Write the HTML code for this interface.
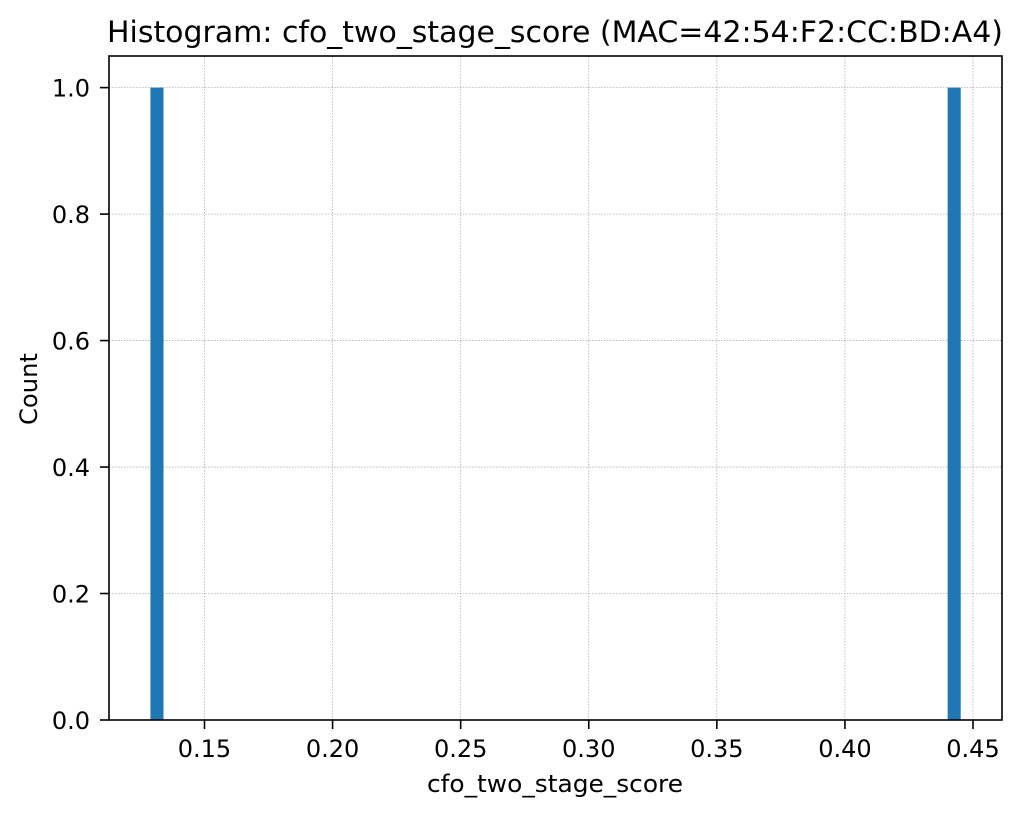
<!DOCTYPE html>
<html><head><meta charset="utf-8"><style>
body{margin:0;background:#fff;}
svg{display:block;font-family:"DejaVu Sans","Liberation Sans",sans-serif;}
</style></head><body>
<svg id="chart" width="1023" height="815"></svg>
<script>
const xTicks=[0.15,0.20,0.25,0.30,0.35,0.40,0.45];
const xTickLabels=["0.15","0.20","0.25","0.30","0.35","0.40","0.45"];
const yTicks=[0,0.2,0.4,0.6,0.8,1.0];
const yTickLabels=["0.0","0.2","0.4","0.6","0.8","1.0"];
const binStarts=[0.1289,0.4401];
const binWidth=0.0051;
const counts=[1,1];
const L=109,R=1002,T=56,B=720;
const xmin=0.11272,xmax=0.46132,ymin=0,ymax=1.05;
const sx=v=>L+(v-xmin)/(xmax-xmin)*(R-L);
const sy=v=>B-(v-ymin)/(ymax-ymin)*(B-T);
const svg=document.getElementById('chart');
const NS='http://www.w3.org/2000/svg';
function mk(t,a){const e=document.createElementNS(NS,t);for(const k in a)e.setAttribute(k,a[k]);svg.appendChild(e);return e;}
xTicks.forEach((v,i)=>{
 const g=mk('line',{x1:sx(v),x2:sx(v),y1:T,y2:B,stroke:'#b0b0b0','stroke-width':0.8,'stroke-dasharray':'1.5,1.5'});
 
 
});
yTicks.forEach((v,i)=>{
 const g=mk('line',{x1:L,x2:R,y1:sy(v),y2:sy(v),stroke:'#b0b0b0','stroke-width':0.8,'stroke-dasharray':'1.5,1.5'});
 
 
});
binStarts.forEach((v,i)=>{
 const r=mk('rect',{x:sx(v),y:sy(counts[i]),width:sx(v+binWidth)-sx(v),height:sy(0)-sy(counts[i]),fill:'#1f77b4'});
 
 
});
const f=mk('rect',{x:L,y:T,width:R-L,height:B-T,fill:'none',stroke:'#000','stroke-width':1.6});


xTicks.forEach((v,i)=>{
 const tk=mk('line',{x1:sx(v),x2:sx(v),y1:B,y2:B+9,stroke:'#000','stroke-width':1.6});
 
 
 const t=mk('text',{x:sx(v),y:B+37,'text-anchor':'middle','font-size':24,fill:'#000'});
 t.textContent=xTickLabels[i];
 
 
});
yTicks.forEach((v,i)=>{
 const tk=mk('line',{x1:L-9,x2:L,y1:sy(v),y2:sy(v),stroke:'#000','stroke-width':1.6});
 
 
 const t=mk('text',{x:L-19,y:sy(v)+9,'text-anchor':'end','font-size':24,fill:'#000'});
 t.textContent=yTickLabels[i];
 
 
});
const xt=mk('text',{x:555,y:792,'text-anchor':'middle','font-size':24,textLength:256,lengthAdjust:'spacingAndGlyphs'});
xt.textContent='cfo_two_stage_score';


const cy=389;
const yt=mk('text',{x:37,y:cy,'text-anchor':'middle','font-size':24,textLength:72,lengthAdjust:'spacingAndGlyphs',transform:`rotate(-90 37 ${cy})`});
yt.textContent='Count';


const tt=mk('text',{x:555,y:42,'text-anchor':'middle','font-size':29,textLength:896,lengthAdjust:'spacingAndGlyphs'});
tt.textContent='Histogram: cfo_two_stage_score (MAC=42:54:F2:CC:BD:A4)';


</script>
</body></html>
